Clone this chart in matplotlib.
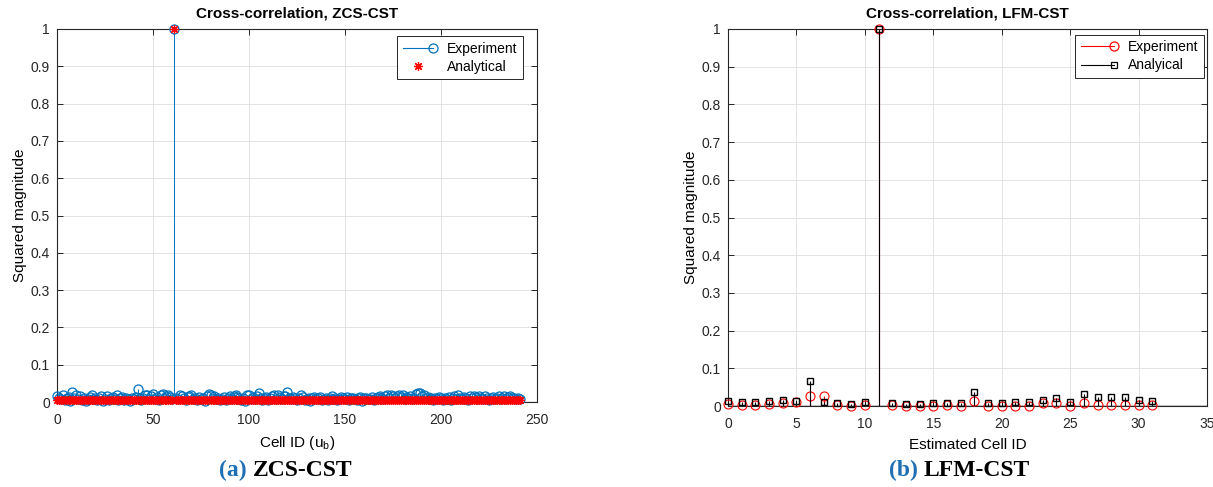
import numpy as np
import matplotlib
matplotlib.use('Agg')
import matplotlib.pyplot as plt
from matplotlib.lines import Line2D
from matplotlib.legend_handler import HandlerBase

# ---- data ----
zcs_cell_id = np.arange(0, 242)
zcs_experiment = [
    0.016, 0.012, 0.008, 0.018, 0.006, 0.010, 0.014, 0.004, 0.026, 0.012, 0.020, 0.008, 0.016, 0.006, 0.011, 0.003, 0.009, 0.013, 0.020, 0.007,
    0.010, 0.005, 0.012, 0.015, 0.004, 0.009, 0.017, 0.006, 0.011, 0.013, 0.008, 0.018, 0.005, 0.010, 0.014, 0.006, 0.012, 0.009, 0.003, 0.011,
    0.007, 0.013, 0.035, 0.010, 0.006, 0.012, 0.018, 0.020, 0.009, 0.015, 0.022, 0.008, 0.013, 0.005, 0.019, 0.021, 0.010, 0.016, 0.020, 0.014,
    0.009, 1.000, 0.012, 0.007, 0.018, 0.015, 0.010, 0.005, 0.013, 0.016, 0.018, 0.008, 0.011, 0.006, 0.014, 0.009, 0.012, 0.004, 0.015, 0.022,
    0.020, 0.010, 0.016, 0.007, 0.012, 0.005, 0.009, 0.013, 0.006, 0.011, 0.015, 0.008, 0.017, 0.020, 0.014, 0.010, 0.006, 0.012, 0.004, 0.018,
    0.020, 0.009, 0.013, 0.007, 0.016, 0.023, 0.011, 0.006, 0.010, 0.014, 0.005, 0.012, 0.017, 0.018, 0.009, 0.020, 0.013, 0.007, 0.015, 0.016,
    0.028, 0.012, 0.008, 0.014, 0.010, 0.005, 0.011, 0.018, 0.013, 0.006, 0.009, 0.012, 0.004, 0.010, 0.014, 0.007, 0.011, 0.013, 0.006, 0.009,
    0.012, 0.005, 0.010, 0.016, 0.008, 0.012, 0.006, 0.009, 0.014, 0.011, 0.007, 0.013, 0.005, 0.010, 0.012, 0.008, 0.006, 0.011, 0.013, 0.004,
    0.010, 0.012, 0.007, 0.009, 0.013, 0.006, 0.011, 0.014, 0.016, 0.012, 0.008, 0.015, 0.018, 0.010, 0.019, 0.017, 0.012, 0.016, 0.020, 0.013,
    0.018, 0.009, 0.014, 0.011, 0.016, 0.007, 0.012, 0.022, 0.025, 0.024, 0.015, 0.018, 0.010, 0.013, 0.008, 0.012, 0.006, 0.011, 0.009, 0.014,
    0.010, 0.005, 0.012, 0.008, 0.013, 0.006, 0.011, 0.016, 0.009, 0.018, 0.012, 0.007, 0.014, 0.010, 0.006, 0.015, 0.012, 0.017, 0.013, 0.008,
    0.016, 0.011, 0.009, 0.017, 0.012, 0.006, 0.010, 0.013, 0.007, 0.011, 0.015, 0.009, 0.012, 0.016, 0.008, 0.014, 0.017, 0.010, 0.012, 0.007,
    0.011, 0.009,
]
# analytical level is flat at ~1/N apart from the matched cell
zcs_analytical = [0.0041] * 61 + [1.0] + [0.0041] * 180

lfm_cell_id = np.arange(0, 32)
lfm_experiment = [0.004, 0.003, 0.003, 0.004, 0.009, 0.010, 0.026, 0.026, 0.002, 0.001, 0.002, 1.0,
                  0.002, 0.001, 0.001, 0.001, 0.002, 0.001, 0.014, 0.001, 0.001, 0.001, 0.001, 0.009,
                  0.007, 0.001, 0.007, 0.002, 0.002, 0.002, 0.002, 0.002]
lfm_analytical = [0.013, 0.011, 0.011, 0.014, 0.016, 0.012, 0.066, 0.011, 0.007, 0.006, 0.011, 1.0,
                  0.009, 0.004, 0.005, 0.007, 0.009, 0.007, 0.038, 0.007, 0.007, 0.011, 0.011, 0.016,
                  0.021, 0.011, 0.032, 0.025, 0.023, 0.025, 0.016, 0.014]

MATLAB_BLUE = '#0072BD'
CAPTION_BLUE = '#1f6fb4'


class StemHandler(HandlerBase):
    # MATLAB-like stem legend entry: a line with the marker sitting at its right end
    def create_artists(self, legend, orig_handle, xdescent, ydescent, width, height, fontsize, trans):
        y = height / 2 - ydescent
        x0, x1 = -xdescent, width - xdescent
        stem = Line2D([x0, x1], [y, y], color=orig_handle.get_color(), linewidth=0.8)
        head = Line2D([x1], [y], marker=orig_handle.get_marker(), markersize=orig_handle.get_markersize(),
                      markerfacecolor='none', markeredgecolor=orig_handle.get_markeredgecolor(),
                      markeredgewidth=0.9, linestyle='none')
        stem.set_transform(trans)
        head.set_transform(trans)
        return [stem, head]


def set_matlab_style():
    plt.rcParams.update({
        'font.family': ['Liberation Sans', 'DejaVu Sans'],
        'font.size': 10,
        'mathtext.fontset': 'custom',
        'mathtext.rm': 'Liberation Sans',
        'mathtext.it': 'Liberation Sans:italic',
        'axes.linewidth': 0.8,
        'axes.edgecolor': '#262626',
        'xtick.direction': 'in',
        'ytick.direction': 'in',
        'xtick.top': True,
        'ytick.right': True,
        'xtick.major.size': 4,
        'ytick.major.size': 4,
        'xtick.major.width': 0.7,
        'ytick.major.width': 0.7,
        'xtick.color': '#262626',
        'ytick.color': '#262626',
        'xtick.labelsize': 10,
        'ytick.labelsize': 10,
    })


def style_axes(ax, xmax, xstep):
    ax.set_xlim(0, xmax)
    ax.set_ylim(0, 1)
    ax.set_xticks(np.arange(0, xmax + 1, xstep))
    ax.set_yticks(np.round(np.arange(0, 1.01, 0.1), 1))
    ax.set_yticklabels(['0'] + [f'{v:.1f}' for v in np.arange(0.1, 0.95, 0.1)] + ['1'])
    ax.grid(True, color='#e3e3e3', linewidth=0.7)
    ax.set_axisbelow(True)
    ax.tick_params(axis='y', pad=5)
    ax.tick_params(axis='x', pad=8)


set_matlab_style()
fig = plt.figure(figsize=(12.13, 4.87), dpi=100)
W, H = 1213, 487

# ---------- (a) ZCS-CST ----------
ax1 = fig.add_axes([57 / W, 1 - 402 / H, 480 / W, 373 / H])
style_axes(ax1, 250, 50)
ax1.vlines(zcs_cell_id, 0, zcs_experiment, color=MATLAB_BLUE, linewidth=0.7, zorder=2)
exp1, = ax1.plot(zcs_cell_id, zcs_experiment, 'o', color=MATLAB_BLUE, markerfacecolor='none',
                 markersize=6.5, markeredgewidth=0.9, clip_on=False, zorder=3)
ax1.axhline(0, color='k', linewidth=0.8, zorder=2)
ana1, = ax1.plot(zcs_cell_id, zcs_analytical, linestyle='none', marker=(8, 2, 0), color='red',
                 markersize=6.5, markeredgewidth=0.9, clip_on=False, zorder=4)
ax1.set_title('Cross-correlation, ZCS-CST', fontsize=11, fontweight='bold', pad=8)
ax1.set_xlabel('Cell ID (u$_\\mathrm{b}$)', fontsize=11, labelpad=5)
ax1.set_ylabel('Squared magnitude', fontsize=11, labelpad=3)
leg1 = ax1.legend([exp1, ana1], ['Experiment', 'Analytical'], loc='upper right',
                  bbox_to_anchor=(0.971, 0.981), borderaxespad=0, fancybox=False,
                  edgecolor='#262626', framealpha=1, fontsize=10, handlelength=2.2,
                  handletextpad=1.0, borderpad=0.4, labelspacing=0.3,
                  handler_map={exp1: StemHandler()})
leg1.get_frame().set_linewidth(0.7)

# ---------- (b) LFM-CST ----------
ax2 = fig.add_axes([728 / W, 1 - 406 / H, 479 / W, 377 / H])
style_axes(ax2, 35, 5)
ax2.axhline(0, color='k', linewidth=1.0, zorder=2)
ax2.vlines(lfm_cell_id, 0, lfm_experiment, color='red', linewidth=0.8, zorder=2)
exp2, = ax2.plot(lfm_cell_id, lfm_experiment, 'o', color='red', markerfacecolor='none',
                 markersize=6.5, markeredgewidth=0.8, clip_on=False, zorder=3)
ax2.vlines(lfm_cell_id, 0, lfm_analytical, color='black', linewidth=0.8, zorder=4)
ana2, = ax2.plot(lfm_cell_id, lfm_analytical, 's', color='black', markerfacecolor='none',
                 markersize=4.5, markeredgewidth=1.0, clip_on=False, zorder=5)
ax2.set_title('Cross-correlation, LFM-CST', fontsize=11, fontweight='bold', pad=8)
ax2.set_xlabel('Estimated Cell ID', fontsize=11, labelpad=5)
ax2.set_ylabel('Squared magnitude', fontsize=11, labelpad=3)
leg2 = ax2.legend([exp2, ana2], ['Experiment', 'Analyical'], loc='upper right',
                  bbox_to_anchor=(0.994, 0.985), borderaxespad=0, fancybox=False,
                  edgecolor='#262626', framealpha=1, fontsize=10, handlelength=2.4,
                  handletextpad=1.0, borderpad=0.4, labelspacing=0.3,
                  handler_map={exp2: StemHandler(), ana2: StemHandler()})
leg2.get_frame().set_linewidth(0.7)

# ---------- sub-captions ----------
cap = dict(family='Liberation Serif', fontweight='bold', fontsize=17, va='center')
fig.text(247 / W, 1 - 470 / H, '(a)', color=CAPTION_BLUE, ha='right', **cap)
fig.text(253 / W, 1 - 470 / H, 'ZCS-CST', color='black', ha='left', **cap)
fig.text(918 / W, 1 - 470 / H, '(b)', color=CAPTION_BLUE, ha='right', **cap)
fig.text(924 / W, 1 - 470 / H, 'LFM-CST', color='black', ha='left', **cap)

fig.savefig('out.png', dpi=100)
